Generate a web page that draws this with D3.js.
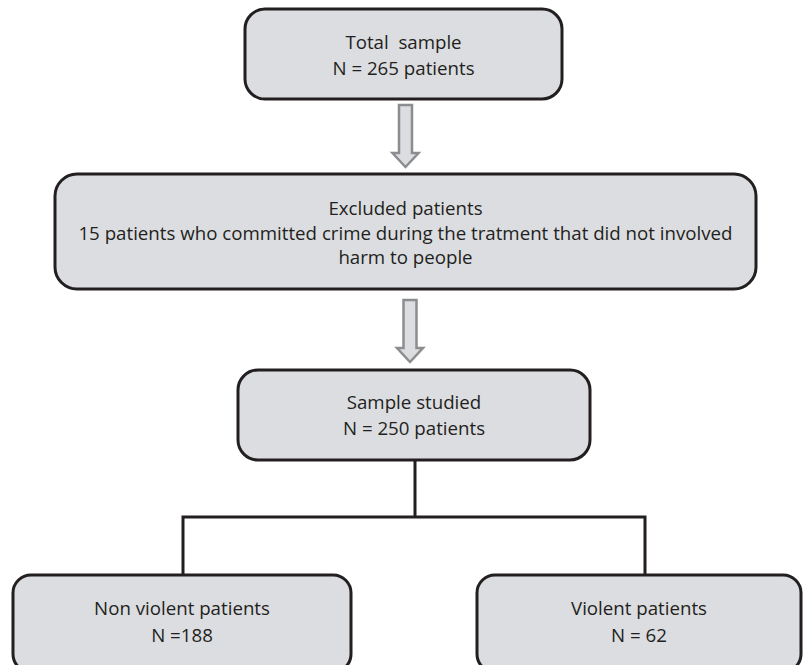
<!DOCTYPE html>
<html>
<head>
<meta charset="utf-8">
<script src="https://cdn.jsdelivr.net/npm/d3@7"></script>
<style>
	body { margin: 0; background: #fff; }
	svg { display: block; }
	text { font-family: "Open Sans", Lato, sans-serif; fill: #231f20; white-space: pre; }
</style>
</head>
<body>
<div id="chart"></div>
<script>
// flow chart contents
const stepTitles = ["Total  sample", "Excluded patients", "Sample studied"];
const stepLines = [
	["N = 265 patients"],
	["15 patients who committed crime during the tratment that did not involved", "harm to people"],
	["N = 250 patients"]
];
const groupTitles = ["Non violent patients", "Violent patients"];
const groupCounts = ["N =188", "N = 62"];

const width = 803, height = 665;
const fill = "#dcdde0", ink = "#231f20";

// box geometry (pixels)
const stepBoxes = [
	{ x0: 245, x1: 562, y0: 9, y1: 99, r: 20, lineY: [42, 68] },
	{ x0: 55, x1: 756, y0: 174, y1: 289, r: 22, lineY: [208, 233, 257] },
	{ x0: 238, x1: 590, y0: 370, y1: 460, r: 20, lineY: [402, 428] }
];
const groupBoxes = [
	{ x0: 13, x1: 351, y0: 575, y1: 672, r: 18, lineY: [608, 635], stemX: 183 },
	{ x0: 477, x1: 801, y0: 575, y1: 672, r: 18, lineY: [608, 635], stemX: 645 }
];
const arrows = [
	{ cx: 405.5, y0: 105, y1: 167 },
	{ cx: 410, y0: 300, y1: 362 }
];

const svg = d3.select("#chart").append("svg")
	.attr("width", width)
	.attr("height", height);

function drawBox(b, lines, size) {
	const g = svg.append("g");
	g.append("rect")
		.attr("x", b.x0).attr("y", b.y0)
		.attr("width", b.x1 - b.x0).attr("height", b.y1 - b.y0)
		.attr("rx", b.r).attr("ry", b.r)
		.attr("fill", fill)
		.attr("stroke", ink)
		.attr("stroke-width", 3);
	const cx = (b.x0 + b.x1) / 2;
	g.selectAll("text")
		.data(lines)
		.join("text")
		.attr("x", cx)
		.attr("y", (d, i) => b.lineY[i])
		.attr("dy", "0.35em")
		.attr("text-anchor", "middle")
		.style("font-size", size + "px")
		.text(d => d);
}

stepBoxes.forEach((b, i) => drawBox(b, [stepTitles[i], ...stepLines[i]], 18.7));
groupBoxes.forEach((b, i) => drawBox(b, [groupTitles[i], groupCounts[i]], 18.7));

// hollow block arrows between the steps
arrows.forEach(a => {
	const sw = 6.5, hw = 13, headH = 14;
	const pts = [
		[a.cx - sw, a.y0], [a.cx + sw, a.y0],
		[a.cx + sw, a.y1 - headH], [a.cx + hw, a.y1 - headH],
		[a.cx, a.y1],
		[a.cx - hw, a.y1 - headH], [a.cx - sw, a.y1 - headH]
	];
	svg.append("path")
		.attr("d", d3.line()(pts) + "Z")
		.attr("fill", "#dcdde0")
		.attr("stroke", "#8c8d8f")
		.attr("stroke-width", 2.5)
		.attr("stroke-linejoin", "miter");
});

// split connector
const split = stepBoxes[2];
const splitX = 415, barY = 517;
const conn = d3.path();
conn.moveTo(splitX, split.y1);
conn.lineTo(splitX, barY);
conn.moveTo(groupBoxes[0].stemX, groupBoxes[0].y0);
conn.lineTo(groupBoxes[0].stemX, barY);
conn.lineTo(groupBoxes[1].stemX, barY);
conn.lineTo(groupBoxes[1].stemX, groupBoxes[1].y0);
svg.insert("path", "g")
	.attr("d", conn.toString())
	.attr("fill", "none")
	.attr("stroke", ink)
	.attr("stroke-width", 3);
</script>
</body>
</html>
